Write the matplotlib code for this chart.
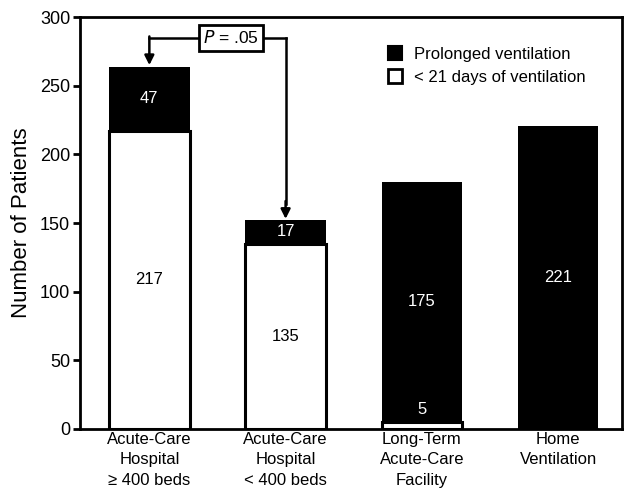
import matplotlib
matplotlib.use('Agg')
import matplotlib.pyplot as plt
from matplotlib.patches import Patch

plt.rcParams['font.family'] = ['Liberation Sans', 'DejaVu Sans']

categories = ['Acute-Care\nHospital\n\u2265 400 beds', 'Acute-Care\nHospital\n< 400 beds',
              'Long-Term\nAcute-Care\nFacility', 'Home\nVentilation']
short_vent = [217, 135, 5, 0]
prolonged = [47, 17, 175, 221]
p_text = '.05'

fig = plt.figure(figsize=(6.24, 4.88), dpi=100)
ax = fig.add_axes([0.128, 0.121, 0.869, 0.844])

x = list(range(len(categories)))
w = 0.59
ax.bar(x, short_vent, w, color='white', edgecolor='black', linewidth=2.2, zorder=2)
ax.bar(x, prolonged, w, bottom=short_vent, color='black', edgecolor='black', linewidth=0, zorder=2)

for i in x:
    if short_vent[i] > 20:
        ax.text(i, short_vent[i] / 2, str(short_vent[i]), ha='center', va='center', fontsize=12, color='black', zorder=3)
    elif short_vent[i] > 0:
        ax.text(i, short_vent[i] + 9, str(short_vent[i]), ha='center', va='center', fontsize=12, color='white', zorder=3)
    ax.text(i, short_vent[i] + prolonged[i] / 2, str(prolonged[i]), ha='center', va='center',
            fontsize=12, color='white', zorder=3)

# significance bracket
top0 = short_vent[0] + prolonged[0]
top1 = short_vent[1] + prolonged[1]
yb = 285
ax.plot([0, 1.0], [yb, yb], color='black', lw=1.8, zorder=1)
ax.plot([1.0, 1.0], [yb, top1 + 12], color='black', lw=1.8, zorder=1)
ax.annotate('', xy=(0, top0 + 1), xytext=(0, yb + 0.9),
            arrowprops=dict(arrowstyle='-|>', color='black', lw=1.8, mutation_scale=14, shrinkA=0, shrinkB=0))
ax.annotate('', xy=(1.0, top1 + 1), xytext=(1.0, top1 + 14),
            arrowprops=dict(arrowstyle='-|>', color='black', lw=1.8, mutation_scale=14, shrinkA=0, shrinkB=0))
ax.text(0.6, yb, '$\\it{P}$ = ' + p_text, ha='center', va='center', fontsize=12.5, zorder=4,
        bbox=dict(boxstyle='square,pad=0.25', facecolor='white', edgecolor='black', linewidth=2))

handles = [Patch(facecolor='black', edgecolor='black', linewidth=1.5, label='Prolonged ventilation'),
           Patch(facecolor='white', edgecolor='black', linewidth=2, label='< 21 days of ventilation')]
ax.legend(handles=handles, loc='upper left', bbox_to_anchor=(0.54, 0.965), frameon=False,
          fontsize=12, handlelength=0.85, handleheight=0.85, handletextpad=0.7, labelspacing=0.45)

ax.set_xlim(-0.51, 3.47)
ax.set_ylim(0, 300)
ax.set_yticks([0, 50, 100, 150, 200, 250, 300])
ax.set_xticks(x)
ax.set_xticklabels(categories, fontsize=12)
for lbl in ax.get_xticklabels():
    lbl.set_linespacing(1.45)
ax.tick_params(axis='x', length=0, pad=2)
ax.tick_params(axis='y', length=5, width=2, labelsize=13, pad=2)
ax.set_ylabel('Number of Patients', fontsize=16, labelpad=6)
for s in ax.spines.values():
    s.set_linewidth(2)

plt.savefig('out.png', dpi=100)
plt.close()
